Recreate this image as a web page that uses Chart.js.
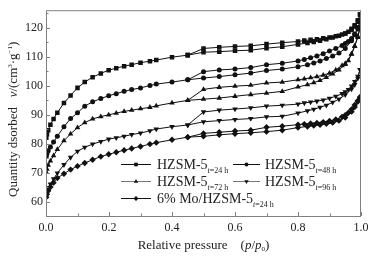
<!DOCTYPE html>
<html>
<head>
<meta charset="utf-8">
<script src="https://cdn.jsdelivr.net/npm/chart.js@4/dist/chart.umd.min.js"></script>
<style>
  html, body { margin: 0; padding: 0; background: #fff; }
  #wrap { width: 376px; height: 256px; position: relative; }
</style>
</head>
<body>
<div id="wrap"><canvas id="isotherms"></canvas></div>
<script>
// relative pressures of the adsorption and desorption branches
const pAds = [0.001, 0.003, 0.007, 0.014, 0.024, 0.036, 0.057, 0.078, 0.10, 0.123, 0.148, 0.174, 0.199, 0.223, 0.248, 0.272, 0.30, 0.33, 0.35, 0.40, 0.45, 0.50, 0.55, 0.60, 0.65, 0.70, 0.75, 0.80, 0.83, 0.85, 0.87, 0.89, 0.91, 0.93, 0.95, 0.97, 0.98, 0.99, 0.997]
const pDes = [0.997, 0.99, 0.98, 0.97, 0.96, 0.95, 0.94, 0.92, 0.90, 0.88, 0.86, 0.84, 0.82, 0.80, 0.75, 0.70, 0.65, 0.60, 0.55, 0.50, 0.45]

// quantity adsorbed, cm3/g
const ads24 = [82, 83.2, 84.6, 86.5, 88.5, 90.6, 94.0, 96.6, 99.2, 101.2, 102.9, 104.2, 105.3, 106.0, 106.7, 107.2, 107.9, 108.4, 108.8, 109.8, 110.5, 111.5, 111.7, 112.0, 112.2, 112.9, 113.4, 114.2, 114.7, 115.0, 115.5, 116.0, 116.6, 117.2, 118.0, 119.2, 120.4, 122.0, 124.5]
const des24 = [124.5, 122.5, 120.8, 119.6, 118.6, 118.0, 117.6, 117.0, 116.6, 116.3, 116.0, 115.8, 115.5, 115.2, 114.8, 114.3, 113.7, 113.5, 113.2, 112.8, 110.5]
const ads48 = [75.5, 76.5, 77.5, 78.8, 80.5, 82.5, 85.8, 88.6, 90.6, 92.9, 94.4, 95.5, 96.5, 97.2, 98.0, 98.6, 99.2, 100.0, 100.5, 101.2, 102.0, 102.6, 103.1, 103.7, 104.3, 105.2, 105.7, 106.5, 107.2, 107.8, 108.5, 109.3, 110.2, 111.2, 112.8, 115.5, 117.5, 120.0, 122.0]
const des48 = [122.0, 119.5, 117.8, 116.2, 115.2, 114.5, 113.8, 112.8, 111.9, 111.0, 110.2, 109.6, 109.0, 108.5, 107.7, 107.2, 106.2, 105.7, 105.4, 104.8, 102.0]
const ads72 = [70.0, 71.2, 72.5, 74.0, 75.8, 78.0, 81.0, 83.3, 85.5, 87.2, 88.5, 89.3, 89.9, 90.5, 91.1, 91.5, 92.0, 92.5, 93.0, 94.0, 94.9, 95.3, 95.7, 96.3, 96.9, 97.4, 98.0, 99.5, 100.3, 101.0, 101.8, 102.8, 104.0, 105.4, 107.3, 110.8, 113.5, 117.0, 120.0]
const des72 = [120.0, 116.6, 113.7, 110.9, 108.6, 107.6, 106.9, 105.4, 104.3, 103.6, 103.1, 102.7, 102.3, 102.0, 101.2, 100.9, 100.1, 99.8, 99.4, 98.7, 94.9]
const ads96 = [62.5, 63.5, 64.7, 66.0, 67.8, 69.8, 72.7, 75.2, 77.3, 78.7, 79.8, 80.7, 81.5, 82.0, 82.5, 83.1, 83.6, 84.4, 85.0, 85.8, 86.4, 87.5, 87.9, 88.3, 88.6, 89.2, 89.4, 90.5, 91.3, 91.8, 92.5, 93.2, 94.2, 95.3, 96.8, 98.8, 100.3, 102.5, 105.5]
const des96 = [105.5, 103.2, 101.4, 99.8, 98.6, 97.8, 97.2, 96.3, 95.6, 95.0, 94.6, 94.3, 94.0, 93.6, 93.2, 92.9, 92.3, 91.9, 91.5, 90.9, 86.4]
const adsMo = [61.5, 62.5, 63.7, 65.0, 66.5, 68.1, 69.6, 71.0, 72.2, 73.3, 74.4, 75.5, 76.3, 77.0, 77.7, 78.3, 79.0, 79.8, 80.3, 81.3, 82.2, 82.5, 83.0, 83.4, 83.7, 84.1, 84.6, 85.5, 85.9, 86.2, 86.5, 86.8, 87.2, 87.9, 89.0, 91.0, 92.6, 94.5, 96.0]
const desMo = [96.0, 94.8, 93.3, 91.8, 90.6, 89.8, 89.2, 88.3, 87.8, 87.4, 87.1, 86.9, 86.7, 86.5, 86.0, 85.6, 84.6, 84.3, 83.9, 83.5, 82.2]

const sampleNames = ['HZSM-5', 'HZSM-5', 'HZSM-5', 'HZSM-5', '6% Mo/HZSM-5']
const sampleTimes = ['24 h', '48 h', '72 h', '96 h', '24 h']
const xTicks = [0, 0.2, 0.4, 0.6, 0.8, 1.0]
const yTicks = [60, 70, 80, 90, 100, 110, 120]

const SERIF = '"Liberation Serif", "DejaVu Serif", serif'
const AXIS_GRAY = '#808080'
const INK = '#111'

// marker for each sample
const markers = [
  { pointStyle: 'rect', radius: 3.2, rotation: 0 },
  { pointStyle: 'circle', radius: 2.5, rotation: 0 },
  { pointStyle: 'triangle', radius: 3.2, rotation: 0 },
  { pointStyle: 'triangle', radius: 3.2, rotation: 180 },
  { pointStyle: 'rectRot', radius: 3.2, rotation: 0 },
]

const branches = [
  [ads24, des24],
  [ads48, des48],
  [ads72, des72],
  [ads96, des96],
  [adsMo, desMo],
]

const toPoints = (ps, vs) => ps.map((p, i) => ({ x: p, y: vs[i] }))

const datasets = []
branches.forEach(([a, d], i) => {
  const m = markers[i]
  const style = {
    showLine: true,
    borderColor: INK,
    borderWidth: 1,
    backgroundColor: INK,
    pointBackgroundColor: INK,
    pointBorderColor: INK,
    pointBorderWidth: 0,
    pointStyle: m.pointStyle,
    pointRadius: m.radius,
    pointRotation: m.rotation,
    pointHoverRadius: m.radius,
    tension: 0,
  }
  datasets.push(Object.assign({ label: sampleNames[i] + ' ads', data: toPoints(pAds, a) }, style))
  datasets.push(Object.assign({ label: sampleNames[i] + ' des', data: toPoints(pDes, d) }, style))
})

// draws text pieces one after another, returns the end x
function drawRuns(ctx, runs, x, y) {
  runs.forEach(r => {
    ctx.font = r.font
    ctx.fillText(r.text, x, y + (r.dy || 0))
    x += ctx.measureText(r.text).width
  })
  return x
}
function runsWidth(ctx, runs) {
  let w = 0
  runs.forEach(r => {
    ctx.font = r.font
    w += ctx.measureText(r.text).width
  })
  return w
}

// frame, inward ticks, axis titles and legend
const decorations = {
  id: 'decorations',
  afterDraw(chart) {
    const { ctx, chartArea: area, scales } = chart
    const xs = scales.x
    const ys = scales.y
    ctx.save()

    ctx.strokeStyle = AXIS_GRAY
    ctx.lineWidth = 1
    ctx.strokeRect(area.left + 0.5, area.top + 0.5, area.right - area.left - 1, area.bottom - area.top)

    // y ticks, major every 10 and minor between
    ctx.beginPath()
    yTicks.forEach(v => {
      const py = Math.round(ys.getPixelForValue(v)) + 0.5
      ctx.moveTo(area.left, py)
      ctx.lineTo(area.left + 4, py)
      const pm = Math.round(ys.getPixelForValue(v + 5)) + 0.5
      if (v + 5 <= ys.max) {
        ctx.moveTo(area.left, pm)
        ctx.lineTo(area.left + 2.5, pm)
      }
    })
    xTicks.forEach(v => {
      const px = Math.round(xs.getPixelForValue(v)) + 0.5
      ctx.moveTo(px, area.bottom)
      ctx.lineTo(px, area.bottom - 4)
      if (v + 0.1 < xs.max) {
        const pm = Math.round(xs.getPixelForValue(v + 0.1)) + 0.5
        ctx.moveTo(pm, area.bottom)
        ctx.lineTo(pm, area.bottom - 2.5)
      }
    })
    ctx.stroke()

    ctx.fillStyle = '#222'
    ctx.textBaseline = 'alphabetic'
    ctx.textAlign = 'left'

    // x title
    const xRuns = [
      { text: 'Relative pressure    (', font: '13px ' + SERIF },
      { text: 'p', font: 'italic 13px ' + SERIF },
      { text: '/', font: '13px ' + SERIF },
      { text: 'p', font: 'italic 13px ' + SERIF },
      { text: '0', font: '7px ' + SERIF, dy: 2 },
      { text: ')', font: '13px ' + SERIF },
    ]
    const xw = runsWidth(ctx, xRuns)
    drawRuns(ctx, xRuns, (area.left + area.right) / 2 - xw / 2, 249)

    // y title, rotated
    ctx.save()
    ctx.translate(17, 197)
    ctx.rotate(-Math.PI / 2)
    const yRuns = [
      { text: 'Quantity dsorbed', font: '13px ' + SERIF },
      { text: '   ', font: '13px ' + SERIF },
      { text: 'v', font: 'italic 13px ' + SERIF },
      { text: '/(cm', font: '13px ' + SERIF },
      { text: '3', font: '7px ' + SERIF, dy: -5 },
      { text: '\u00b7g', font: '13px ' + SERIF },
      { text: '\u22121', font: '7px ' + SERIF, dy: -5 },
      { text: ')', font: '13px ' + SERIF },
    ]
    drawRuns(ctx, yRuns, 0, 0)
    ctx.restore()

    // legend
    const cols = [
      { x0: 121, x1: 151, text: 157 },
      { x0: 233, x1: 260, text: 265 },
    ]
    const rows = [164, 181, 198]
    const lineColors = [INK, INK, '#777', '#777', INK]
    sampleNames.forEach((name, i) => {
      const c = cols[i % 2]
      const yy = rows[Math.floor(i / 2)]
      ctx.strokeStyle = lineColors[i]
      ctx.beginPath()
      ctx.moveTo(c.x0, yy + 0.5)
      ctx.lineTo(c.x1, yy + 0.5)
      ctx.stroke()
      ctx.fillStyle = INK
      const m = markers[i]
      Chart.helpers.drawPoint(ctx, { pointStyle: m.pointStyle, radius: m.radius * 0.8, rotation: m.rotation, borderWidth: 0 }, (c.x0 + c.x1) / 2, yy + 0.5)
      ctx.fillStyle = '#222'
      drawRuns(ctx, [
        { text: name, font: '14px ' + SERIF },
        { text: 't', font: 'italic 8px ' + SERIF, dy: 4 },
        { text: '=' + sampleTimes[i], font: '8px ' + SERIF, dy: 4 },
      ], c.text, yy + 5)
    })

    ctx.restore()
  },
}

const ctxIsotherms = document.getElementById('isotherms').getContext('2d')
const isothermChart = new Chart(ctxIsotherms, {
  type: 'scatter',
  data: { datasets },
  options: {
    responsive: true,
    maintainAspectRatio: false,
    animation: false,
    events: [],
    layout: { padding: { top: 7, right: 15, left: 0, bottom: 0 } },
    plugins: {
      legend: { display: false },
      tooltip: { enabled: false },
    },
    scales: {
      x: {
        type: 'linear',
        min: 0,
        max: 1,
        afterFit: s => { s.height = 40 },
        afterBuildTicks: s => { s.ticks = xTicks.map(v => ({ value: v })) },
        grid: { display: false, drawTicks: false },
        border: { display: false },
        ticks: {
          padding: 5,
          color: '#222',
          font: { family: SERIF, size: 12 },
          callback: v => v.toFixed(1),
        },
      },
      y: {
        type: 'linear',
        min: 55,
        max: 126,
        afterFit: s => { s.width = 46 },
        afterBuildTicks: s => { s.ticks = yTicks.map(v => ({ value: v })) },
        grid: { display: false, drawTicks: false },
        border: { display: false },
        ticks: {
          padding: 3,
          color: '#222',
          font: { family: SERIF, size: 12 },
        },
      },
    },
  },
  plugins: [decorations],
})
</script>
</body>
</html>
